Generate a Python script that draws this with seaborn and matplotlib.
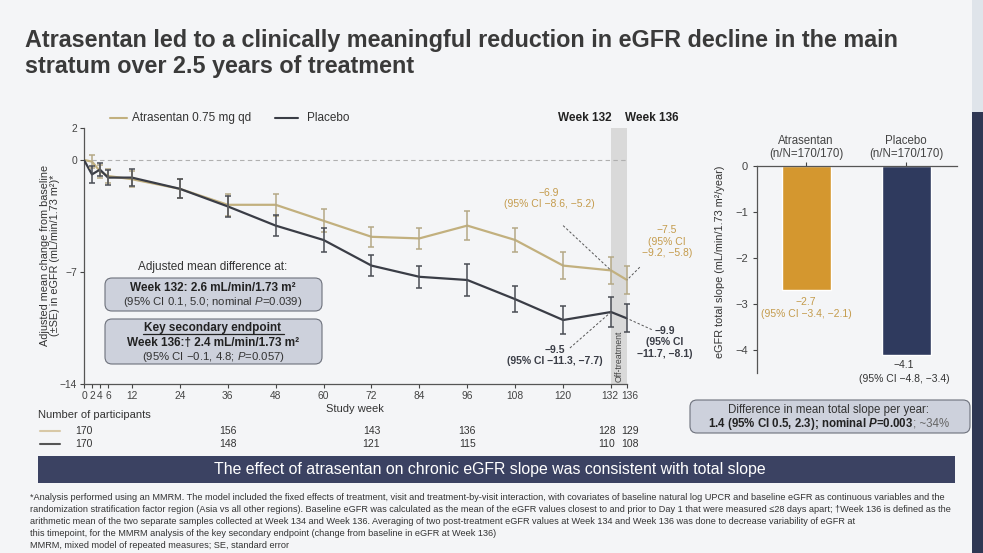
import numpy as np
import pandas as pd
import seaborn as sns
import matplotlib.pyplot as plt
import matplotlib.transforms as mtransforms
from matplotlib.patches import FancyBboxPatch, Rectangle
from matplotlib.lines import Line2D

# eGFR change from baseline
weeks = [0, 2, 4, 6, 12, 24, 36, 48, 60, 72, 84, 96, 108, 120, 132, 136]
atr_mean = [0, -0.1, -0.7, -1.0, -1.2, -1.8, -2.8, -2.8, -3.8, -4.8, -4.9, -4.1, -5.0, -6.6, -6.9, -7.5]
plb_mean = [0, -0.9, -0.6, -1.1, -1.1, -1.8, -2.9, -4.1, -5.0, -6.6, -7.3, -7.5, -8.7, -10.0, -9.5, -9.9]
atr_se = [0, 0.42, 0.4, 0.45, 0.5, 0.6, 0.67, 0.7, 0.73, 0.64, 0.66, 0.91, 0.78, 0.83, 0.85, 0.89]
plb_se = [0, 0.54, 0.4, 0.45, 0.54, 0.6, 0.67, 0.67, 0.73, 0.67, 0.7, 0.97, 0.83, 0.9, 0.92, 0.88]
x_ticks = [0, 2, 4, 6, 12, 24, 36, 48, 60, 72, 84, 96, 108, 120, 132, 136]

# participants table
n_weeks = [0, 36, 72, 96, 132, 136]
atr_n = [170, 156, 143, 136, 128, 129]
plb_n = [170, 148, 121, 115, 110, 108]

# total slope bars
slope_groups = ["Atrasentan\n(n/N=170/170)", "Placebo\n(n/N=170/170)"]
slope_values = [-2.7, -4.1]
slope_ci = ["(95% CI \u22123.4, \u22122.1)", "(95% CI \u22124.8, \u22123.4)"]

TAN = "#c2b07e"
TAN_TXT = "#c49b4c"
DARK = "#3a3d46"
BAR_ATR = "#d4972f"
BAR_PLB = "#2f3a5e"
TXT = "#333333"
BG = "#f4f5f7"

sns.set_style("ticks")
plt.rcParams['font.family'] = ['Liberation Sans', 'DejaVu Sans']
plt.rcParams['mathtext.fontset'] = 'custom'
plt.rcParams['mathtext.it'] = 'Liberation Sans:italic'
plt.rcParams['mathtext.rm'] = 'Liberation Sans'
plt.rcParams['mathtext.bf'] = 'Liberation Sans:bold:italic'

W, H = 983, 553
fig = plt.figure(figsize=(W / 100, H / 100), dpi=100, facecolor=BG)


def fx(px):
    return px / W


def fy(py):
    return 1 - py / H


# side strips
fig.add_artist(Rectangle((fx(972), fy(112)), fx(11), 112 / H, transform=fig.transFigure,
                         color="#dfe4ea", lw=0))
fig.add_artist(Rectangle((fx(972), 0), fx(11), fy(112), transform=fig.transFigure,
                         color="#2f3753", lw=0))

# title
fig.text(fx(25), fy(47.5), "Atrasentan led to a clinically meaningful reduction in eGFR decline in the main",
         fontsize=16.8, fontweight='bold', color="#3a3a3a", va='baseline')
fig.text(fx(25), fy(73.5), "stratum over 2.5 years of treatment",
         fontsize=16.8, fontweight='bold', color="#3a3a3a", va='baseline')

# ---------------- left chart ----------------
ax = fig.add_axes([fx(84), fy(384), fx(627) - fx(84), (384 - 128) / H])
ax.set_facecolor("none")

df = pd.DataFrame({
    'week': weeks * 2,
    'change': atr_mean + plb_mean,
    'group': ['Atrasentan'] * len(weeks) + ['Placebo'] * len(weeks),
})

ax.axvspan(132, 136, color="#d9d9d9", lw=0, zorder=0)
ax.axhline(0, color="#b0b0b0", lw=0.8, ls=(0, (4, 3)), zorder=1)

sns.lineplot(data=df, x='week', y='change', hue='group', palette=[TAN, DARK],
             errorbar=None, legend=False, ax=ax, lw=1.6, zorder=3)

for mean, se, col in [(atr_mean, atr_se, "#b5a986"), (plb_mean, plb_se, "#4a4d55")]:
    eb = ax.errorbar(weeks[1:], mean[1:], yerr=se[1:], fmt='none', ecolor=col,
                     elinewidth=1.1, capsize=2.5, capthick=1.1, zorder=4)
    for a in eb.get_children():
        a.set_clip_on(False)

ax.set_xlim(0, 136)
ax.set_ylim(-14, 2)
ax.set_xticks(x_ticks)
ax.set_yticks([2, 0, -7, -14])
ax.tick_params(labelsize=7.4, length=3, width=0.8, colors="#444444", pad=2)
sns.despine(ax=ax)
for s in ['left', 'bottom']:
    ax.spines[s].set_color("#555555")
    ax.spines[s].set_linewidth(0.9)
ax.set_xlabel("")
ax.set_ylabel("")

# spread the crowded 132 / 136 labels a little, as on the slide
labels = ax.get_xticklabels()
for lab, dx in [(labels[-2], -1.5), (labels[-1], 3)]:
    lab.set_transform(lab.get_transform() + mtransforms.ScaledTranslation(dx / 100, 0, fig.dpi_scale_trans))

fig.text(fx(355), fy(409), "Study week", fontsize=8, color=TXT, ha='center', va='center')
fig.text(fx(50), fy(255), "Adjusted mean change from baseline\n(\u00b1SE) in eGFR (mL/min/1.73 m\u00b2)*",
         fontsize=7.8, color=TXT, rotation=90, ha='center', va='center', linespacing=1.1)

# legend
fig.add_artist(Line2D([fx(110), fx(127)], [fy(118), fy(118)], color=TAN, lw=1.5))
fig.text(fx(132), fy(118), "Atrasentan 0.75 mg qd", fontsize=8.5, color=TXT, va='center')
fig.add_artist(Line2D([fx(275), fx(298)], [fy(118), fy(118)], color=DARK, lw=1.5))
fig.text(fx(307), fy(118), "Placebo", fontsize=8.5, color=TXT, va='center')
fig.text(fx(585), fy(118), "Week 132", fontsize=8.5, fontweight='bold', color="#222222",
         ha='center', va='center')
fig.text(fx(652), fy(118), "Week 136", fontsize=8.5, fontweight='bold', color="#222222",
         ha='center', va='center')

# point annotations
ax.text(134, -12.25, "Off-treatment", rotation=90, fontsize=6.3, color="#444444",
        ha='center', va='center')
notes = [
    (116.5, -2.4, "\u22126.9\n(95% CI \u22128.6, \u22125.2)", TAN_TXT, (120.0, -4.1), (132, -6.9)),
    (146.0, -5.1, "\u22127.5\n(95% CI\n\u22129.2, \u22125.8)", TAN_TXT, (139.2, -6.7), (136, -7.5)),
    (118.0, -12.2, "\u22129.5\n(95% CI \u221211.3, \u22127.7)", DARK, (121.7, -11.75), (132, -9.5)),
    (145.5, -11.4, "\u22129.9\n(95% CI\n\u221211.7, \u22128.1)", DARK, (142.2, -10.6), (136, -9.9)),
]
for tx, ty, label, col, p0, p1 in notes:
    ax.text(tx, ty, label, fontsize=7.5, fontweight='bold' if col == DARK else 'normal',
            color=col, ha='center', va='center', linespacing=1.15, clip_on=False)
    ax.plot([p0[0], p1[0]], [p0[1], p1[1]], color="#555555", lw=0.7, ls=(0, (2.5, 2)),
            clip_on=False, zorder=5)


def pbox(x0, y0, x1, y1):
    fig.add_artist(FancyBboxPatch((x0 / 100, (H - y1) / 100), (x1 - x0) / 100, (y1 - y0) / 100,
                                  boxstyle="round,pad=0,rounding_size=0.07",
                                  transform=fig.dpi_scale_trans, facecolor="#cdd1dc",
                                  edgecolor="#6d717c", lw=0.8, zorder=2))


fig.text(fx(213), fy(267), "Adjusted mean difference at:", fontsize=8.5, color=TXT,
         ha='center', va='center')
pbox(105, 278, 322, 311)
fig.text(fx(213), fy(288), "Week 132: 2.6 mL/min/1.73 m\u00b2", fontsize=8.5, fontweight='bold',
         color="#222222", ha='center', va='center', zorder=3)
fig.text(fx(213), fy(302), "(95% CI 0.1, 5.0; nominal $\\mathit{P}$=0.039)", fontsize=8.2,
         color=TXT, ha='center', va='center', zorder=3)
pbox(105, 319, 322, 364)
fig.text(fx(213), fy(327.5), "Key secondary endpoint", fontsize=8.5, fontweight='bold',
         color="#222222", ha='center', va='center', zorder=3)
fig.add_artist(Line2D([fx(143), fx(284)], [fy(334), fy(334)], color="#222222", lw=0.9, zorder=4))
fig.text(fx(213), fy(343), "Week 136:\u2020 2.4 mL/min/1.73 m\u00b2", fontsize=8.5, fontweight='bold',
         color="#222222", ha='center', va='center', zorder=3)
fig.text(fx(213), fy(357), "(95% CI \u22120.1, 4.8; $\\mathit{P}$=0.057)", fontsize=8.2,
         color=TXT, ha='center', va='center', zorder=3)

# participants
fig.text(fx(38), fy(415), "Number of participants", fontsize=8, color=TXT, va='center')
fig.add_artist(Line2D([fx(40), fx(60)], [fy(431), fy(431)], color="#d8c8a6", lw=1.5))
fig.add_artist(Line2D([fx(40), fx(60)], [fy(444), fy(444)], color="#555555", lw=1.5))
nudge = {132: -4, 136: 3}
for row_y, counts in [(431, atr_n), (444, plb_n)]:
    for wk, n in zip(n_weeks, counts):
        px = 84 + wk / 136 * 543 + nudge.get(wk, 0)
        fig.text(fx(px), fy(row_y), str(n), fontsize=7.5, color=TXT, ha='center', va='center')

# ---------------- right chart ----------------
ax2 = fig.add_axes([fx(757), fy(373), fx(200), (373 - 165.7) / H])
ax2.set_facecolor("none")
sns.barplot(x=slope_groups, y=slope_values, hue=slope_groups, palette=[BAR_ATR, BAR_PLB],
            width=0.49, saturation=1, legend=False, ax=ax2)
ax2.set_xlim(-0.49, 1.51)
ax2.set_ylim(-4.5, 0)
ax2.set_yticks([0, -1, -2, -3, -4])
ax2.xaxis.tick_top()
ax2.set_xticks([0, 1])
ax2.set_xticklabels(slope_groups)
ax2.tick_params(axis='x', labelsize=8.3, length=3, pad=1, colors="#444444")
ax2.tick_params(axis='y', labelsize=8, length=3, colors="#444444")
for lab in ax2.get_xticklabels():
    lab.set_linespacing(1.15)
for s in ['right', 'bottom']:
    ax2.spines[s].set_visible(False)
for s in ['left', 'top']:
    ax2.spines[s].set_color("#555555")
    ax2.spines[s].set_linewidth(0.9)
ax2.set_xlabel("")
ax2.set_ylabel("")
fig.text(fx(720), fy(262), "eGFR total slope (mL/min/1.73 m\u00b2/year)", fontsize=7.8, color=TXT,
         rotation=90, ha='center', va='center')

ax2.text(0, -2.96, "\u22122.7", fontsize=7.5, color=TAN_TXT, ha='center', va='center')
ax2.text(0, -3.22, slope_ci[0], fontsize=7.5, color=TAN_TXT, ha='center', va='center')
ax2.text(0.98, -4.33, "\u22124.1", fontsize=7.5, color=TXT, ha='center', va='center', clip_on=False)
ax2.text(0.98, -4.62, slope_ci[1], fontsize=7.5, color=TXT, ha='center', va='center', clip_on=False)

pbox(690, 400, 970, 433)
fig.text(fx(829), fy(410), "Difference in mean total slope per year:", fontsize=8.3, color=TXT,
         ha='center', va='center', zorder=3)
t1 = fig.text(0, fy(424), "1.4 (95% CI 0.5, 2.3); nominal $\\mathbf{P}$=0.003", fontsize=8.3,
              fontweight='bold', color="#222222", va='center', zorder=3)
t2 = fig.text(0, fy(424), "; ~34%", fontsize=8.3, color="#666666", va='center', zorder=3)
r = fig.canvas.get_renderer()
w1 = t1.get_window_extent(r).width
w2 = t2.get_window_extent(r).width
start = 829 - (w1 + w2) / 2
t1.set_x(fx(start))
t2.set_x(fx(start + w1))

# banner
fig.add_artist(Rectangle((fx(38), fy(483)), fx(917), 27 / H, transform=fig.transFigure,
                         color="#3b4262", lw=0))
fig.text(fx(490), fy(469.5), "The effect of atrasentan on chronic eGFR slope was consistent with total slope",
         fontsize=11.4, color="white", ha='center', va='center')

# footnotes
foot = [
    "*Analysis performed using an MMRM. The model included the fixed effects of treatment, visit and treatment-by-visit interaction, with covariates of baseline natural log UPCR and baseline eGFR as continuous variables and the",
    "randomization stratification factor region (Asia vs all other regions). Baseline eGFR was calculated as the mean of the eGFR values closest to and prior to Day 1 that were measured \u226428 days apart; \u2020Week 136 is defined as the",
    "arithmetic mean of the two separate samples collected at Week 134 and Week 136. Averaging of two post-treatment eGFR values at Week 134 and Week 136 was done to decrease variability of eGFR at",
    "this timepoint, for the MMRM analysis of the key secondary endpoint (change from baseline in eGFR at Week 136)",
    "MMRM, mixed model of repeated measures; SE, standard error",
]
for i, line in enumerate(foot):
    fig.text(fx(30), fy(497 + i * 12.2), line, fontsize=6.6, color="#333333", va='center')

fig.savefig("out.png", dpi=100, facecolor=BG)
